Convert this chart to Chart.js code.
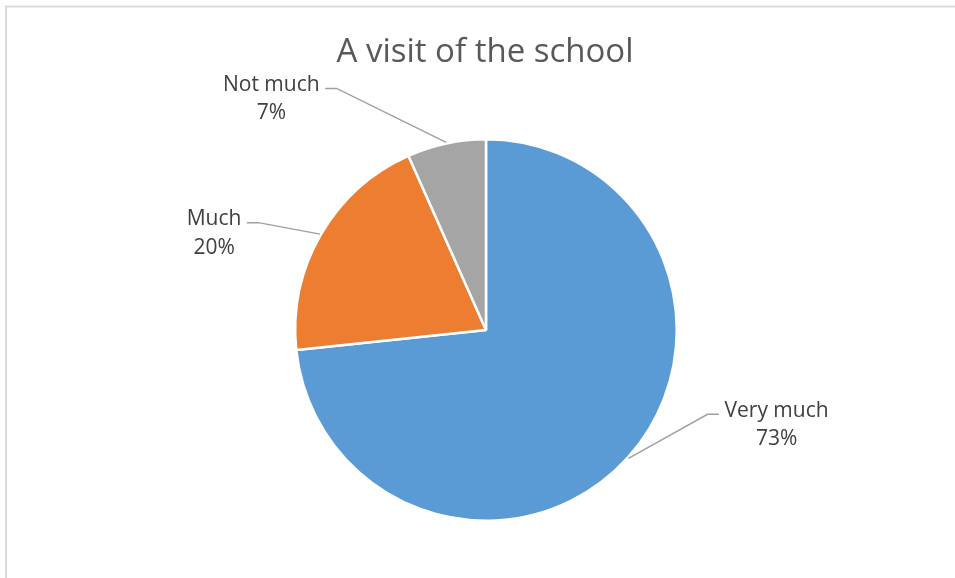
<!DOCTYPE html>
<html>
<head>
<meta charset="utf-8">
<script src="https://cdn.jsdelivr.net/npm/chart.js@4/dist/chart.umd.min.js"></script>
<style>
  html, body { margin: 0; padding: 0; background: #ffffff; }
  #wrap { width: 955px; height: 578px; position: relative; }
</style>
</head>
<body>
<div id="wrap"><canvas id="c" width="955" height="578"></canvas></div>
<script>
const chartTitle = "A visit of the school";
const categories = ["Very much", "Much", "Not much"];
const values = [11, 3, 1];
const percentLabels = ["73%", "20%", "7%"];
const sliceColors = ["#5b9bd5", "#ed7d31", "#a5a5a5"];

// label layout per slice: elbow offset from slice edge point, side of text
const labelLayout = [
  { dx: 79, dy: -44, side: 1 },
  { dx: -61.5, dy: -11.5, side: -1 },
  { dx: -109.5, dy: -54, side: -1 }
];

const decorPlugin = {
  id: 'decor',
  beforeDraw(chart) {
    const ctx = chart.ctx;
    ctx.save();
    ctx.fillStyle = '#ffffff';
    ctx.fillRect(0, 0, chart.width, chart.height);
    ctx.strokeStyle = '#d9d9d9';
    ctx.lineWidth = 2;
    ctx.beginPath();
    ctx.moveTo(6, chart.height);
    ctx.lineTo(6, 6.5);
    ctx.lineTo(chart.width, 6.5);
    ctx.stroke();
    ctx.restore();
  },
  afterDraw(chart) {
    const ctx = chart.ctx;
    ctx.save();
    // title
    ctx.font = '33px "Open Sans"';
    ctx.fillStyle = '#595959';
    ctx.textAlign = 'center';
    ctx.textBaseline = 'alphabetic';
    ctx.fillText(chartTitle, 485, 62);

    const meta = chart.getDatasetMeta(0);
    ctx.font = '21px "Open Sans"';
    meta.data.forEach((arc, i) => {
      const p = arc.getProps(['x', 'y', 'startAngle', 'endAngle', 'outerRadius'], true);
      const mid = (p.startAngle + p.endAngle) / 2;
      const r = p.outerRadius + 1;
      const ex = p.x + Math.cos(mid) * r;
      const ey = p.y + Math.sin(mid) * r;
      const L = labelLayout[i];
      const bx = ex + L.dx, by = ey + L.dy;
      const hx = bx + L.side * 11.5;
      ctx.strokeStyle = '#a0a0a0';
      ctx.lineWidth = 1.5;
      ctx.beginPath();
      ctx.moveTo(ex, ey);
      ctx.lineTo(bx, by);
      ctx.lineTo(hx, by);
      ctx.stroke();

      const lines = [categories[i], percentLabels[i]];
      const w = Math.max(...lines.map(t => ctx.measureText(t).width));
      const gap = 5.5;
      const cx = L.side > 0 ? hx + gap + w / 2 : hx - gap - w / 2;
      ctx.fillStyle = '#404040';
      ctx.textAlign = 'center';
      lines.forEach((t, k) => ctx.fillText(t, cx, by + 2.5 + k * 28.5));
    });
    ctx.restore();
  }
};

new Chart(document.getElementById('c'), {
  type: 'pie',
  data: {
    labels: categories,
    datasets: [{
      data: values,
      backgroundColor: sliceColors,
      borderColor: '#ffffff',
      borderWidth: 2.5
    }]
  },
  options: {
    responsive: false,
    animation: false,
    layout: { padding: { left: 294, right: 277, top: 138, bottom: 56 } },
    plugins: {
      legend: { display: false },
      tooltip: { enabled: false },
      title: { display: false }
    }
  },
  plugins: [decorPlugin]
});
</script>
</body>
</html>
